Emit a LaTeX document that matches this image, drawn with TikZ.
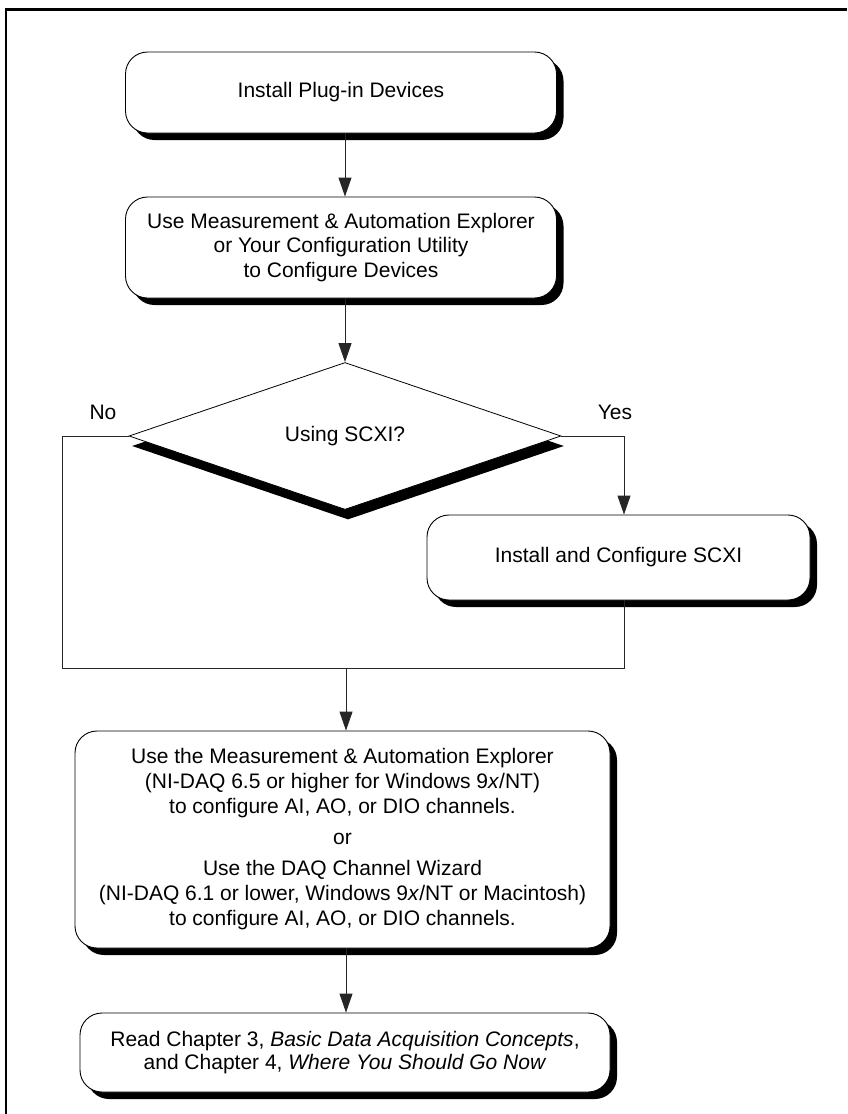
\documentclass[tikz,border=0pt]{standalone}
\usepackage{fontspec}
\setmainfont{Liberation Sans}
\usetikzlibrary{arrows.meta,shapes.geometric,shadows}
\begin{document}
\begin{tikzpicture}[x=1pt,y=-1pt,
  txt/.style={font=\fontsize{21}{25}\selectfont},
  flowbox/.style={txt, draw=black, line width=0.9pt, fill=white, rounded corners=22pt,
     align=center, inner sep=0pt,
     general shadow={fill=black, shadow xshift=7pt, shadow yshift=-7pt}},
  decision/.style={txt, draw=black, line width=0.8pt, fill=white, shape=diamond,
     aspect=2.93, inner sep=0pt,
     general shadow={fill=black, shadow xshift=3pt, shadow yshift=-10pt}},
  link/.style={draw=black!85, line width=0.9pt},
  arrowlink/.style={link, -{Triangle[length=19pt,width=13pt]}},
  frameline/.style={draw=black}
]
\useasboundingbox (0,0) rectangle (847,1114);
% frame (top and left only)
\coordinate (ftl) at (6,9);
\coordinate (ftr) at (847,9);
\coordinate (fbl) at (6,1114);
\draw[frameline, line width=3pt] (ftl) -- (ftr);
\draw[frameline, line width=2pt] ([yshift=1.5pt]ftl) -- (fbl);

% boxes
\node[flowbox, minimum width=431pt, minimum height=81pt] (b1) at (341,92.5)
  {Install Plug-in Devices};
\node[flowbox, minimum width=431pt, minimum height=101pt, font=\fontsize{21}{24.5}\selectfont] (b2) at (341,247.5)
  {Use Measurement \& Automation Explorer\\ or Your Configuration Utility\\ to Configure Devices};
\node[decision, minimum width=432pt, minimum height=147pt] (d) at (345,436) {Using SCXI?};
\node[flowbox, minimum width=383pt, minimum height=85pt] (s) at (618.5,557.5)
  {Install and Configure SCXI};
\node[flowbox, minimum width=535pt, minimum height=217pt] (b4) at (342.5,839.5)
  {Use the Measurement \& Automation Explorer\\
   (NI-DAQ 6.5 or higher for Windows 9\textit{x}/NT)\\
   to configure AI, AO, or DIO channels.\\[6pt]
   or\\[6pt]
   Use the DAQ Channel Wizard\\
   (NI-DAQ 6.1 or lower, Windows 9\textit{x}/NT or Macintosh)\\
   to configure AI, AO, or DIO channels.};
\node[flowbox, minimum width=530pt, minimum height=79pt, font=\fontsize{21}{23.5}\selectfont] (b5) at (345,1052.5)
  {Read Chapter 3, \textit{Basic Data Acquisition Concepts},\\
   and Chapter 4, \textit{Where You Should Go Now}};

% labels
\node[txt] (no) at (103,412) {No};
\node[txt] (yes) at (615,412) {Yes};

% connectors
\draw[arrowlink] ([xshift=4pt]b1.south) -- ([xshift=4pt]b2.north);
\draw[arrowlink] ([xshift=4pt]b2.south) -- (d.north);
\coordinate (yescorner) at (624,436);
\draw[arrowlink] (d.east) -- (yescorner) -- (yescorner |- s.north);
\coordinate (nocorner) at (62,436);
\coordinate (nobottom) at (62,668);
\coordinate (merge) at (346,668);
\coordinate (sbottom) at (624,668);
\draw[link] (d.west) -- (nocorner) -- (nobottom) -- (sbottom) -- (sbottom |- s.south);
\draw[arrowlink] (merge) -- (merge |- b4.north);
\coordinate (b4out) at ([xshift=3.5pt]b4.south);
\draw[arrowlink] (b4out) -- (b4out |- b5.north);
\end{tikzpicture}
\end{document}
